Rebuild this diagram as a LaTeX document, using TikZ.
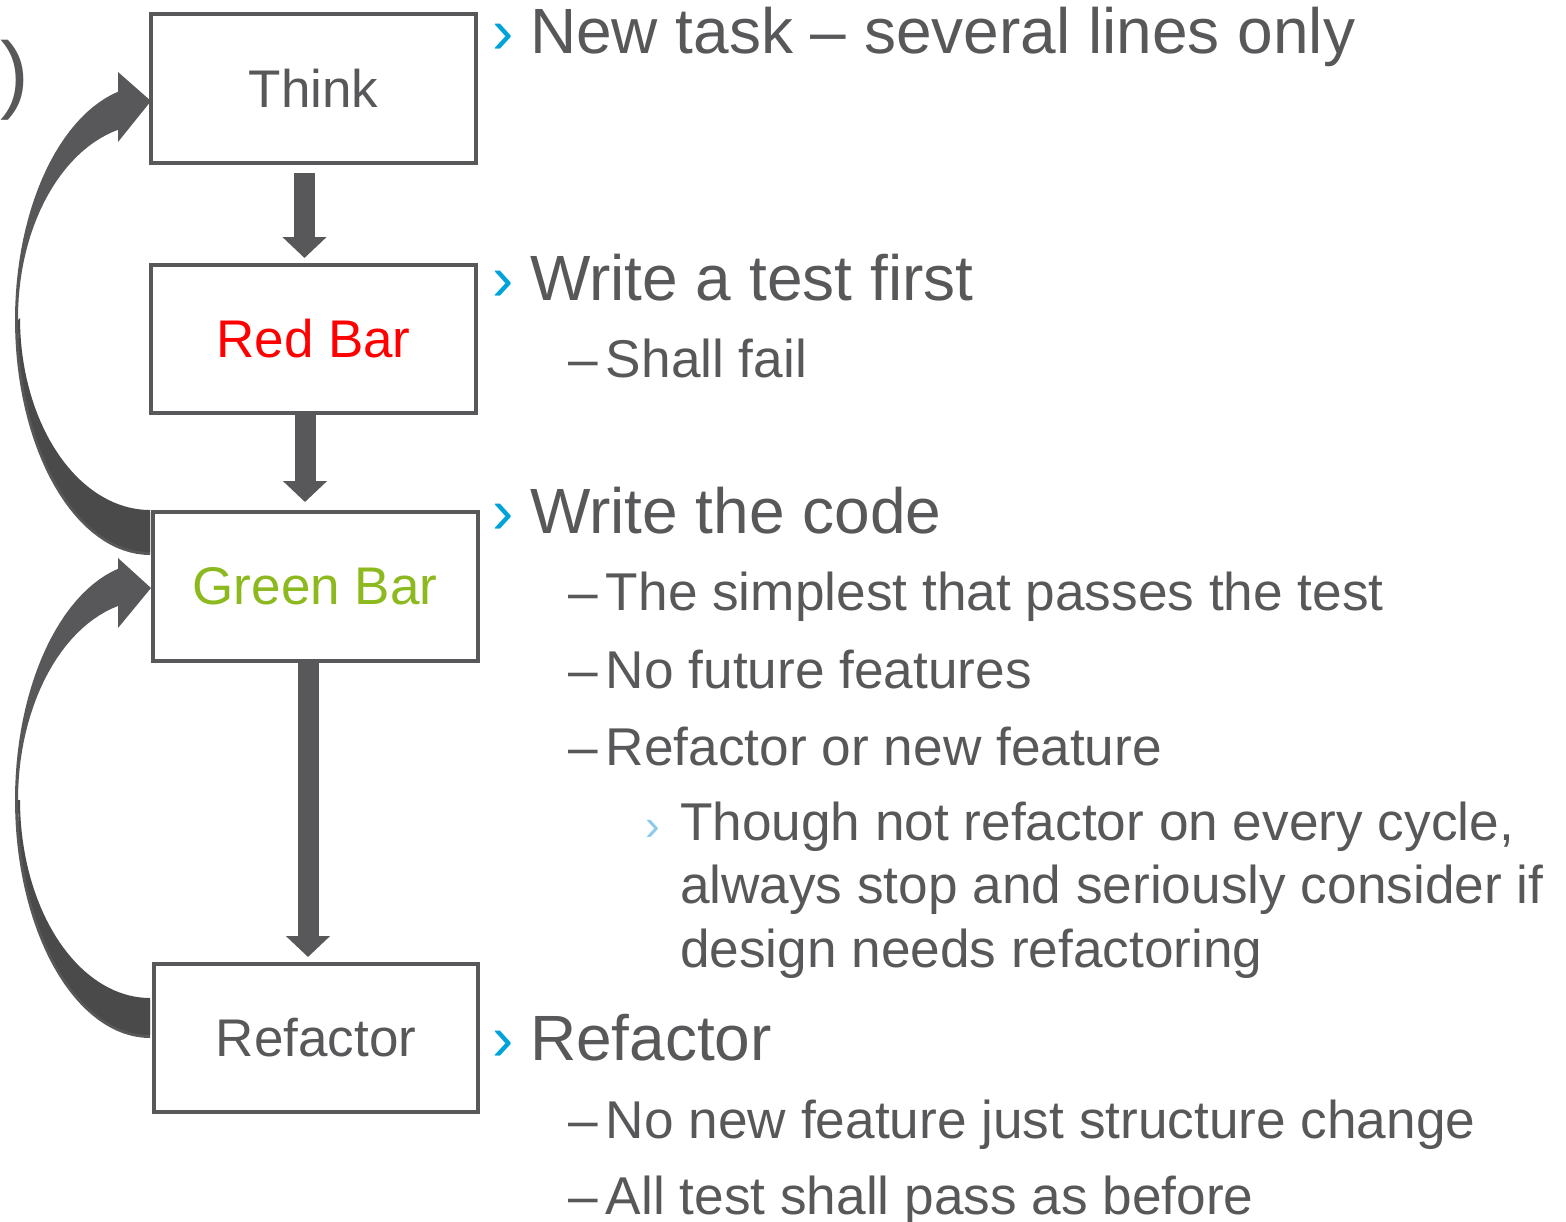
\documentclass[tikz,border=0pt]{standalone}
\usepackage{fontspec}
\setmainfont{Liberation Sans}
\usetikzlibrary{arrows.meta}
\definecolor{tgray}{HTML}{58585A}
\definecolor{adark}{HTML}{4A4A4B}
\definecolor{bcyan}{HTML}{00A3D9}
\definecolor{blight}{HTML}{8ACBE9}
\definecolor{rbar}{HTML}{FF0000}
\definecolor{gbar}{HTML}{8CBA1E}
\newcommand\mybul[1]{{\color{bcyan}\makebox[38pt][l]{#1}}}
\newcommand\mydash{\makebox[38pt][l]{–}}
\tikzset{
  stepbox/.style={draw=tgray, line width=4pt, fill=white, inner sep=0pt,
    font=\fontsize{53}{60}\selectfont, text=tgray},
  lvlone/.style={anchor=base west, inner sep=0pt, outer sep=0pt, text=tgray, font=\fontsize{64}{76}\selectfont},
  lvltwo/.style={anchor=base west, inner sep=0pt, outer sep=0pt, text=tgray, font=\fontsize{53.2}{62}\selectfont},
  blockarrow/.style={draw=tgray, line width=21pt, line cap=butt, -{Triangle[length=21pt,width=43pt]}},
  bodyfill/.style={fill=tgray},
  backfill/.style={fill=adark},
}
\begin{document}
\begin{tikzpicture}[x=1pt,y=-1pt]
\useasboundingbox (0,0) rectangle (1566,1221);
\clip (0,0) rectangle (1566,1221);

% partially visible glyph at the left edge
\node[anchor=base west, inner sep=0pt, text=tgray, font=\fontsize{86}{90}\selectfont] (cut) at (0,102) {)};

% curved arrow: Green Bar -> Think
\path[bodyfill] plot[domain=90:256.3, samples=60, variable=\t] ({150+135*cos(\t)}, {320+235*sin(\t)})
  -- (118,72) -- (151,101) -- (118,142)
  -- plot[domain=256:90, samples=60, variable=\t] ({150+132*cos(\t)}, {318+194*sin(\t)}) -- cycle;
\path[backfill] plot[domain=90:180, samples=40, variable=\t] ({150+132*cos(\t)}, {320+232*sin(\t)})
  -- plot[domain=180:90, samples=40, variable=\t] ({150+130*cos(\t)}, {318+192*sin(\t)}) -- cycle;

% curved arrow: Refactor -> Green Bar
\path[bodyfill] plot[domain=90:256.3, samples=60, variable=\t] ({150+135*cos(\t)}, {800+238*sin(\t)})
  -- (118,558) -- (151,588) -- (118,628)
  -- plot[domain=256:90, samples=60, variable=\t] ({150+132*cos(\t)}, {800+200*sin(\t)}) -- cycle;
\path[backfill] plot[domain=90:180, samples=40, variable=\t] ({150+132*cos(\t)}, {800+235*sin(\t)})
  -- plot[domain=180:90, samples=40, variable=\t] ({150+130*cos(\t)}, {800+198*sin(\t)}) -- cycle;

% boxes
\node[stepbox, minimum width=325, minimum height=149] (think) at (313.5,88.5) {Think};
\node[stepbox, minimum width=325, minimum height=148, text=rbar] (red) at (313.5,339) {Red Bar};
\node[stepbox, minimum width=325, minimum height=149, text=gbar] (green) at (315,586.5) {Green Bar};
\node[stepbox, minimum width=324, minimum height=148] (refactor) at (316,1038) {Refactor};

% straight arrows
\draw[blockarrow] ([xshift=-9pt,yshift=-8pt]think.south) -- ([xshift=-9pt,yshift=5pt]red.north);
\draw[blockarrow] ([xshift=-8.5pt,yshift=2pt]red.south) -- ([xshift=-10pt,yshift=8pt]green.north);
\draw[blockarrow] ([xshift=-7pt,yshift=2pt]green.south) -- ([xshift=-8pt,yshift=5pt]refactor.north);

% text
\node[lvlone] (t1) at (492,53) {\mybul{›}New task – several lines only};
\node[lvlone] (t2) at (492,300) {\mybul{›}Write a test first};
\node[lvltwo] (t2a) at (568,377) {\mydash Shall fail};
\node[lvlone] (t3) at (492,533) {\mybul{›}Write the code};
\node[lvltwo] (t3a) at (568,610) {\mydash The simplest that passes the test};
\node[lvltwo] (t3b) at (568,688) {\mydash No future features};
\node[lvltwo] (t3c) at (568,765) {\mydash Refactor or new feature};
\node[lvltwo] (t3d) at (645,840) {{\color{blight}\makebox[35pt][l]{\fontsize{44}{50}\selectfont ›}}Though not refactor on every cycle,};
\node[lvltwo] (t3e) at (680,903) {always stop and seriously consider if};
\node[lvltwo] (t3f) at (680,967) {design needs refactoring};
\node[lvlone] (t4) at (492,1060) {\mybul{›}Refactor};
\node[lvltwo] (t4a) at (568,1138) {\mydash No new feature just structure change};
\node[lvltwo] (t4b) at (568,1214) {\mydash All test shall pass as before};
\end{tikzpicture}
\end{document}
